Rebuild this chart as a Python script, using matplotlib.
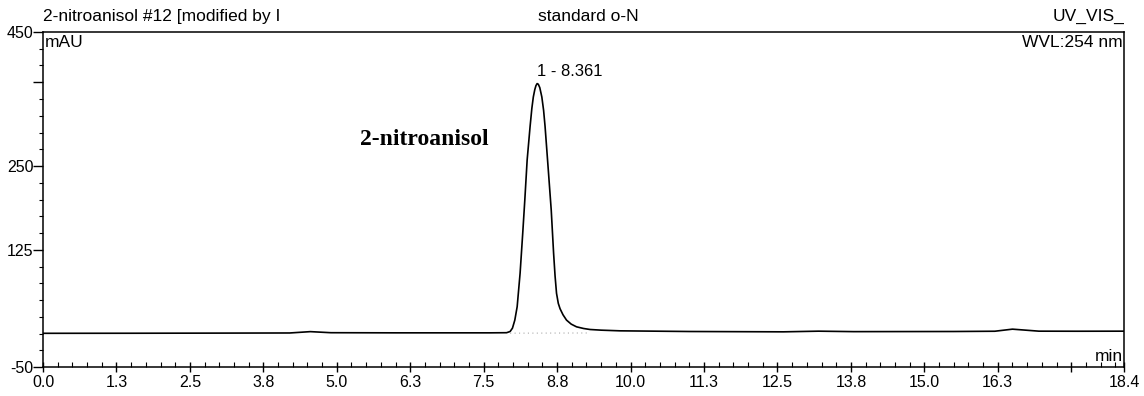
import matplotlib
matplotlib.use("Agg")
import matplotlib.pyplot as plt
from matplotlib.ticker import FixedLocator, MultipleLocator

plt.rcParams['font.family'] = ['Liberation Sans', 'DejaVu Sans']

# chromatogram trace (time in min, signal in mAU)
times = [0.0, 1.5, 3.0, 4.2, 4.55, 4.9, 6.0, 7.0, 7.6, 7.89, 7.95, 7.99, 8.03,
         8.07, 8.12, 8.165, 8.20, 8.24, 8.29, 8.32, 8.345, 8.37, 8.39, 8.41,
         8.43, 8.455, 8.49, 8.52, 8.545, 8.60, 8.65, 8.69, 8.715, 8.74, 8.77,
         8.80, 8.85, 8.91, 8.99, 9.08, 9.2, 9.31, 9.5, 9.82, 11.0, 12.6,
         13.2, 13.8, 15.5, 16.2, 16.5, 16.95, 17.6, 18.4]
signal = [0.3, 0.4, 0.6, 0.8, 2.8, 1.2, 1.0, 1.0, 1.0, 1.2, 3, 8, 20,
          40, 90, 150, 199, 259, 309, 336, 353, 364, 370, 373,
          372, 367, 353, 333, 309, 244, 184, 120, 86, 60, 45,
          37, 28, 20, 14, 10, 7.5, 6, 5, 4, 3, 2.5,
          3.5, 2.8, 3.0, 3.4, 6.5, 3.5, 3.4, 3.5]

# integration baseline under the peak
peak_base_t = [7.95, 9.3]
peak_base_v = [0.5, 0.8]

peak_label = "1 - 8.361"
peak_time = 8.41
peak_height = 373
compound = "2-nitroanisol"
compound_pos = (5.4, 289)

y_major = [-50, 125, 250, 375, 450]
y_labels = ["-50", "125", "250", "", "450"]
x_major = [0.0, 1.25, 2.5, 3.75, 5.0, 6.25, 7.5, 8.75, 10.0, 11.25, 12.5,
           13.75, 15.0, 16.25, 17.5, 18.4]
x_labels = ["0.0", "1.3", "2.5", "3.8", "5.0", "6.3", "7.5", "8.8", "10.0",
            "11.3", "12.5", "13.8", "15.0", "16.3", "", "18.4"]

fig = plt.figure(figsize=(11.44, 3.96), dpi=100)
ax = fig.add_axes([0.0376, 0.0732, 0.945, 0.846])

ax.plot(times, signal, color='black', lw=1.2)
ax.plot(peak_base_t, peak_base_v, color='#aaaaaa', lw=0.8, ls=(0, (1, 3)))

ax.set_xlim(0, 18.4)
ax.set_ylim(-50, 450)

ax.xaxis.set_major_locator(FixedLocator(x_major))
ax.set_xticklabels(x_labels)
ax.xaxis.set_minor_locator(MultipleLocator(0.25))
ax.yaxis.set_major_locator(FixedLocator(y_major))
ax.set_yticklabels(y_labels)
ax.yaxis.set_minor_locator(MultipleLocator(25))

ax.tick_params(axis='x', which='major', direction='inout', length=7, width=1,
               labelsize=11.5, pad=2)
ax.tick_params(axis='x', which='minor', direction='in', length=3.5, width=0.8)
ax.tick_params(axis='y', which='major', direction='out', length=7, width=1,
               labelsize=11.5, pad=0)
ax.tick_params(axis='y', which='minor', direction='out', length=3, width=0.8)
for s in ax.spines.values():
    s.set_linewidth(1.1)

# header texts
hdr = 12.5
ax.text(0.0, 1.045, "2-nitroanisol #12 [modified by I", transform=ax.transAxes,
        ha='left', va='center', fontsize=hdr)
ax.text(0.504, 1.045, "standard o-N", transform=ax.transAxes,
        ha='center', va='center', fontsize=hdr)
ax.text(1.0, 1.045, "UV_VIS_", transform=ax.transAxes,
        ha='right', va='center', fontsize=hdr)
ax.text(0.002, 0.968, "mAU", transform=ax.transAxes,
        ha='left', va='center', fontsize=hdr)
ax.text(0.999, 0.968, "WVL:254 nm", transform=ax.transAxes,
        ha='right', va='center', fontsize=hdr)
ax.text(0.999, 0.03, "min", transform=ax.transAxes,
        ha='right', va='center', fontsize=hdr)

ax.annotate(peak_label, xy=(peak_time, peak_height), xytext=(0, 3),
            textcoords='offset points', ha='left', va='bottom', fontsize=12)
ax.text(compound_pos[0], compound_pos[1], compound, ha='left', va='center',
        fontsize=17, fontweight='bold', family='Liberation Serif')

fig.savefig("out.png", dpi=100)
